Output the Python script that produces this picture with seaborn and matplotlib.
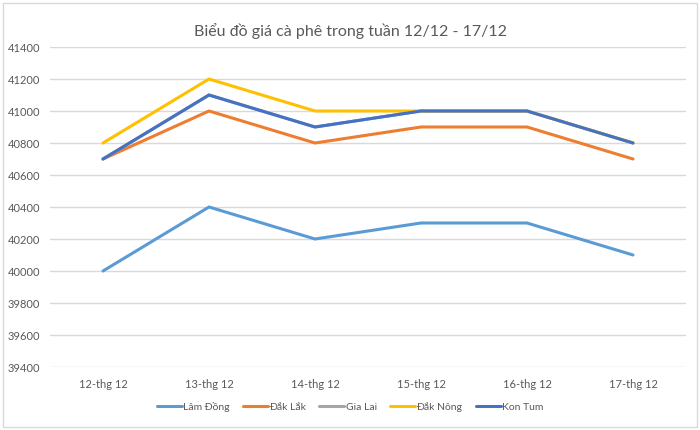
import matplotlib
matplotlib.use("Agg")
import matplotlib.pyplot as plt
import seaborn as sns
import pandas as pd
from matplotlib.patches import Rectangle
from matplotlib.lines import Line2D

days = ["12-thg 12", "13-thg 12", "14-thg 12", "15-thg 12", "16-thg 12", "17-thg 12"]
series_names = ["Lâm Đồng", "Đắk Lắk", "Gia Lai", "Đắk Nông", "Kon Tum"]
lam_dong = [40000, 40400, 40200, 40300, 40300, 40100]
dak_lak = [40700, 41000, 40800, 40900, 40900, 40700]
gia_lai = [40700, 41100, 40900, 41000, 41000, 40800]
dak_nong = [40800, 41200, 41000, 41000, 41000, 40800]
kon_tum = [40700, 41100, 40900, 41000, 41000, 40800]
yticks = [39400, 39600, 39800, 40000, 40200, 40400, 40600, 40800, 41000, 41200, 41400]
colors = ["#5B9BD5", "#ED7D31", "#A5A5A5", "#FFC000", "#4472C4"]

sns.set_theme(style="white")
plt.rcParams["font.family"] = ["Lato", "DejaVu Sans"]

rows = []
for name, vals in zip(series_names, [lam_dong, dak_lak, gia_lai, dak_nong, kon_tum]):
    for i, v in enumerate(vals):
        rows.append({"Ngày": i, "Giá": v, "Tỉnh": name})
df = pd.DataFrame(rows)

fig = plt.figure(figsize=(7, 4.3), dpi=100)
ax = fig.add_axes([50/700, 1-367/430, 636/700, 320/430])

sns.lineplot(data=df, x="Ngày", y="Giá", hue="Tỉnh", hue_order=series_names,
             palette=colors, linewidth=2.2, ax=ax, sort=False, legend=False)

ax.set_xlim(-0.5, 5.5)
ax.set_ylim(39400, 41400)
ax.set_yticks(yticks)
ax.set_yticklabels([str(t) for t in yticks])
ax.set_xticks(range(len(days)))
ax.set_xticklabels(days)
ax.grid(axis="y", color="#D9D9D9", linewidth=1)
ax.grid(axis="x", visible=False)
ax.set_axisbelow(True)
for s in ax.spines.values():
    s.set_visible(False)
ax.tick_params(axis="both", length=0, labelsize=8, labelcolor="#595959")
ax.tick_params(axis="x", pad=9)
ax.tick_params(axis="y", pad=7)
ax.set_xlabel("")
ax.set_ylabel("")

fig.text(0.5, 1-31/430, "Biểu đồ giá cà phê trong tuần 12/12 - 17/12", ha="center", va="center",
         fontsize=11.5, color="#595959")

handles = [Line2D([0], [0], color=c, lw=2.2) for c in colors]
fig.legend(handles, series_names, loc="center", bbox_to_anchor=(0.5, 1-407/430), ncol=5,
           frameon=False, fontsize=7.5, handlelength=2.4, handletextpad=0.1, columnspacing=1.3,
           labelcolor="#595959")

fig.patches.append(Rectangle((3/700, 3/430), 694/700, 424/430, transform=fig.transFigure,
                             fill=False, edgecolor="#D9D9D9", linewidth=1))

fig.savefig("out.png", dpi=100)
